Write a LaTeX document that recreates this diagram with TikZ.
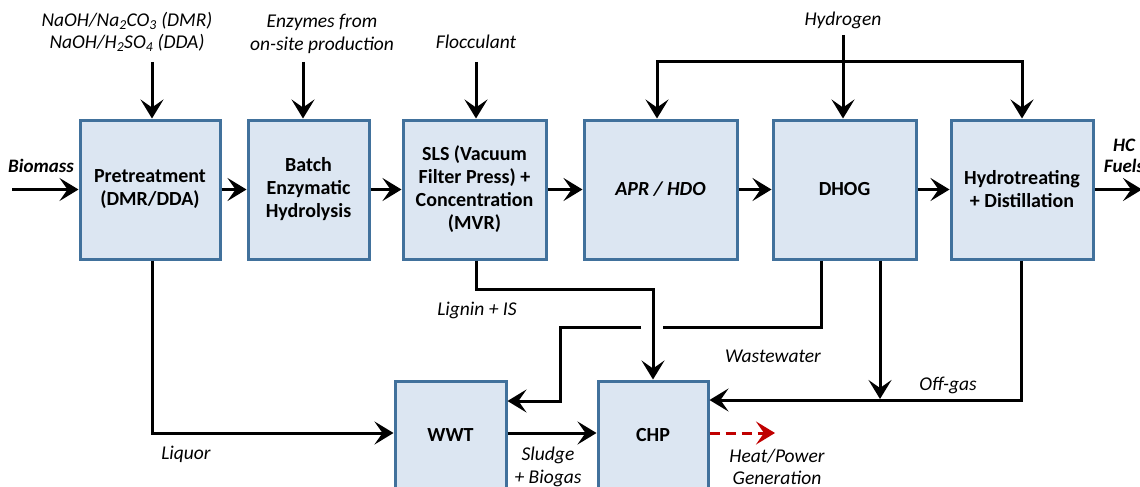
\documentclass[tikz,border=0pt]{standalone}
\usepackage{fontspec}
\setmainfont{Carlito}
\usetikzlibrary{arrows.meta}
\definecolor{boxfill}{HTML}{DCE6F2}
\definecolor{boxline}{HTML}{41719C}
\definecolor{heatred}{HTML}{C00000}
\begin{document}
\begin{tikzpicture}[x=1pt,y=-1pt,
  >={Stealth[length=19pt,width=23pt,inset=8pt]},
  box/.style={draw=boxline, fill=boxfill, line width=3pt, inner sep=2pt, align=center,
    font=\fontsize{20}{23}\selectfont\bfseries},
  line/.style={line width=3pt},
  lbl/.style={font=\fontsize{19.5}{22.5}\selectfont\itshape, align=center, inner sep=0pt},
  blbl/.style={font=\fontsize{19}{21}\selectfont\bfseries\itshape, align=center, inner sep=0pt},
  heatarrow/.style={line width=3pt, draw=heatred, dash pattern=on 10pt off 6pt,
    -{Stealth[length=19pt,width=23pt,inset=8pt,color=heatred,sep=0pt]}}
]
\useasboundingbox (0,0) rectangle (1140,487);

% process boxes
\node[box, minimum width=140pt, minimum height=139pt] (pre) at (150,189.5) {Pretreatment\\(DMR/DDA)};
\node[box, minimum width=121pt, minimum height=139pt] (bat) at (308.5,189.5) {Batch\\Enzymatic\\Hydrolysis};
\node[box, minimum width=143pt, minimum height=139pt] (sls) at (474.5,189.5) {SLS (Vacuum\\Filter Press) +\\Concentration\\(MVR)};
\node[box, minimum width=153pt, minimum height=139pt] (apr) at (660.5,189.5) {\itshape APR / HDO};
\node[box, minimum width=143pt, minimum height=139pt] (dhog) at (844.5,189.5) {DHOG};
\node[box, minimum width=142pt, minimum height=139pt] (hyd) at (1022,189.5) {Hydrotreating\\+ Distillation};
\node[box, minimum width=111pt, minimum height=108pt] (wwt) at (450.5,435) {WWT};
\node[box, minimum width=110pt, minimum height=108pt] (chp) at (653,435) {CHP};

% coordinates
\coordinate (bio) at (12,189.5);
\coordinate (fuel) at (1142,189.5);
\coordinate (naoh) at (152,62);
\coordinate (enz) at (303,62);
\coordinate (floc) at (476,62);
\coordinate (h2) at (843,35);
\coordinate (lpL) at (657,62);
\coordinate (lpR) at (1022,62);
\coordinate (lq) at (152,433);
\coordinate (lg) at (476,289);
\coordinate (ww1) at (821,327);
\coordinate (wwgR) at (663,327);
\coordinate (wwgL) at (641,327);
\coordinate (wwc) at (560,327);
\coordinate (wwd) at (560,401);
\coordinate (dg) at (880,399);
\coordinate (og) at (1021,400);
\coordinate (heat) at (775,433);

% main flow
\draw[line,->] (bio) -- (pre.west);
\draw[line,->] (pre) -- (bat);
\draw[line,->] (bat) -- (sls);
\draw[line,->] (sls) -- (apr);
\draw[line,->] (apr) -- (dhog);
\draw[line,->] (dhog) -- (hyd);
\draw[line,->] (hyd.east) -- (fuel);

% top inputs
\draw[line,->] (naoh) -- (naoh |- pre.north);
\draw[line,->] (enz) -- (enz |- bat.north);
\draw[line,->] (floc) -- (floc |- sls.north);
\draw[line,->] (h2) -- (h2 |- dhog.north);
\draw[line,<->] (lpL |- apr.north) -- (lpL) -- (lpR) -- (lpR |- hyd.north);

% bottom streams
\draw[line,->] (pre.south -| lq) -- (lq) -- (lq -| wwt.west);
\draw[line,->] (sls.south -| lg) -- (lg) -| (chp.north);
\draw[line] (dhog.south -| ww1) -- (ww1) -- (wwgR);
\draw[line,->] (wwgL) -- (wwc) -- (wwd) -- (wwd -| wwt.east);
\draw[line,->] (dhog.south -| dg) -- (dg);
\draw[line,->] (hyd.south -| og) -- (og) -- (og -| chp.east);
\draw[line,->] (wwt.east |- lq) -- (chp.west |- lq);
\draw[heatarrow] (chp.east |- heat) -- (heat);

% labels
\node[lbl] (l1) at (127,32) {NaOH/Na\textsubscript{2}CO\textsubscript{3} (DMR)\\NaOH/H\textsubscript{2}SO\textsubscript{4} (DDA)};
\node[lbl] (l2) at (322,34) {Enzymes from\\on-site production};
\node[lbl] (l3) at (476,42) {Flocculant};
\node[lbl] (l4) at (843,20) {Hydrogen};
\node[blbl] (l5) at (41,166) {Biomass};
\node[blbl] (l6) at (1124,156) {HC\\Fuels};
\node[lbl] (l7) at (477,310) {Lignin + IS};
\node[lbl] (l8) at (773,356) {Wastewater};
\node[lbl] (l9) at (948,385) {Off-gas};
\node[lbl] (l10) at (186,454) {Liquor};
\node[lbl] (l11) at (548,467) {Sludge\\+ Biogas};
\node[lbl] (l12) at (777,467) {Heat/Power\\Generation};
\end{tikzpicture}
\end{document}
